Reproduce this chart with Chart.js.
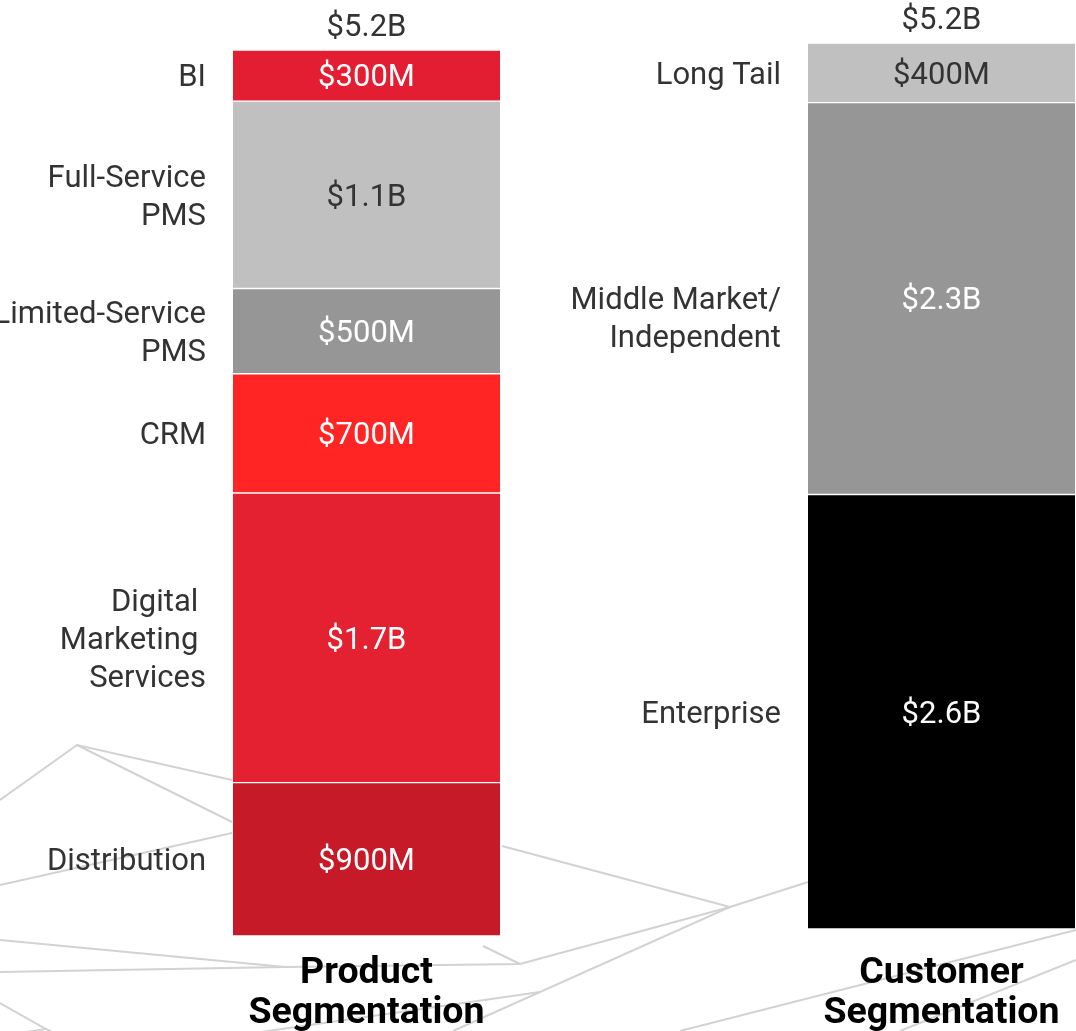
<!DOCTYPE html>
<html>
<head>
<meta charset="utf-8">
<script src="https://cdn.jsdelivr.net/npm/chart.js@4.4.1/dist/chart.umd.min.js"></script>
<style>
  html, body { margin: 0; padding: 0; background: #fff; }
  #wrap { position: relative; width: 1076px; height: 1031px; overflow: hidden; }
  #wrap canvas { position: absolute; left: 0; top: 0; }
</style>
</head>
<body>
<div id="wrap">
  <canvas id="product" width="1076" height="1031"></canvas>
  <canvas id="customer" width="1076" height="1031"></canvas>
</div>
<script>
// stacks are listed bottom -> top
const productCategory = ['Product', 'Segmentation'];
const productSegments = ['Distribution', ['Digital ', 'Marketing ', 'Services'], 'CRM', ['Limited-Service', 'PMS'], ['Full-Service', 'PMS'], 'BI'];
const productValues = [0.9, 1.7, 0.7, 0.5, 1.1, 0.3];
const productLabels = ['$900M', '$1.7B', '$700M', '$500M', '$1.1B', '$300M'];
const productTotal = '$5.2B';

const customerCategory = ['Customer', 'Segmentation'];
const customerSegments = ['Enterprise', ['Middle Market/', 'Independent'], 'Long Tail'];
const customerValues = [2.55, 2.3, 0.35];
const customerLabels = ['$2.6B', '$2.3B', '$400M'];
const customerTotal = '$5.2B';

const TOTAL_MAX = 5.2;

// styling
const productColors = ['#C61A28', '#E32131', '#FF2525', '#969696', '#C0C0C0', '#E31E32'];
const productTextColors = ['#fff', '#fff', '#fff', '#fff', '#333', '#fff'];
const customerColors = ['#000000', '#969696', '#C0C0C0'];
const customerTextColors = ['#fff', '#fff', '#333'];
const customerFirstLineCentered = [false, true, false];

// faint network lines behind the bars (decoration only)
const backdrop = [
  [[0, 800], [77, 745], [232, 780]],
  [[77, 745], [232, 822]],
  [[0, 885], [232, 833]],
  [[0, 940], [285, 967], [520, 964], [730, 907], [808, 882]],
  [[0, 972], [285, 967]],
  [[483, 946], [520, 964]],
  [[502, 846], [730, 907], [453, 1031]],
  [[1076, 930], [680, 1031]],
  [[1076, 960], [900, 1031]],
  [[0, 1003], [46, 1029], [72, 1041]],
  [[0, 1036], [46, 1029]],
  [[205, 1040], [540, 992]],
];

const backdropPlugin = {
  id: 'backdrop',
  beforeDraw(chart) {
    const { ctx } = chart;
    ctx.save();
    ctx.strokeStyle = '#d2d2d2';
    ctx.lineWidth = 2;
    backdrop.forEach((pts) => {
      ctx.beginPath();
      pts.forEach(([x, y], i) => (i ? ctx.lineTo(x, y) : ctx.moveTo(x, y)));
      ctx.stroke();
    });
    ctx.restore();
  },
};

const TEXT_NUDGE = 3;

const segmentText = {
  id: 'segmentText',
  afterDatasetsDraw(chart, args, opts) {
    const { ctx } = chart;
    ctx.save();
    ctx.font = '31px Roboto';
    ctx.textBaseline = 'middle';
    let top = Infinity;
    let cx = 0;
    chart.data.datasets.forEach((ds, i) => {
      const bar = chart.getDatasetMeta(i).data[0];
      const { x, y, base, width } = bar.getProps(['x', 'y', 'base', 'width'], true);
      const mid = (y + base) / 2 + TEXT_NUDGE;
      top = Math.min(top, y);
      cx = x;

      ctx.textAlign = 'center';
      ctx.fillStyle = ds.textColor;
      ctx.fillText(ds.valueText, x, mid);

      const lines = [].concat(ds.name);
      const lh = 38;
      const start = ds.firstLineCentered ? mid : mid - (lines.length - 1) * lh / 2;
      ctx.textAlign = 'right';
      ctx.fillStyle = '#333';
      lines.forEach((line, k) => ctx.fillText(line, x - width / 2 - 27, start + k * lh));
    });
    ctx.textAlign = 'center';
    ctx.fillStyle = '#333';
    ctx.fillText(opts.total, cx, top - 25 + TEXT_NUDGE);
    ctx.restore();
  },
};

function makeChart(id, category, names, values, labels, colors, textColors, total, box, centered) {
  return new Chart(document.getElementById(id), {
    type: 'bar',
    data: {
      labels: [category],
      datasets: names.map((name, i) => ({
        label: [].concat(name).join(' '),
        name,
        data: [values[i]],
        valueText: labels[i],
        textColor: textColors[i],
        firstLineCentered: centered ? centered[i] : false,
        backgroundColor: colors[i],
        borderColor: '#fff',
        borderWidth: { top: 1, bottom: 1 },
        borderSkipped: false,
        barThickness: 267,
      })),
    },
    options: {
      responsive: false,
      animation: false,
      layout: { padding: { left: box.left, right: 1076 - box.right, top: box.top, bottom: 0 } },
      plugins: {
        legend: { display: false },
        tooltip: { enabled: false },
        segmentText: { total },
      },
      scales: {
        x: {
          stacked: true,
          grid: { display: false, drawTicks: false, tickLength: 0 },
          border: { display: false },
          ticks: {
            padding: box.tickPad,
            color: '#000',
            maxRotation: 0,
            font: { family: 'Roboto', size: 37.5, weight: 'bold', lineHeight: 40 / 37.5 },
          },
          afterFit: (scale) => {
            scale.height = 1031 - box.bottom;
            scale.paddingLeft = 0;
            scale.paddingRight = 0;
          },
        },
        y: { stacked: true, display: false, min: 0, max: TOTAL_MAX },
      },
    },
    plugins: id === 'product' ? [backdropPlugin, segmentText] : [segmentText],
  });
}

makeChart('product', productCategory, productSegments, productValues, productLabels,
  productColors, productTextColors, productTotal,
  { left: 233, right: 500, top: 50, bottom: 936, tickPad: 18 });

makeChart('customer', customerCategory, customerSegments, customerValues, customerLabels,
  customerColors, customerTextColors, customerTotal,
  { left: 808, right: 1075, top: 43, bottom: 929, tickPad: 25 }, customerFirstLineCentered);
</script>
</body>
</html>
